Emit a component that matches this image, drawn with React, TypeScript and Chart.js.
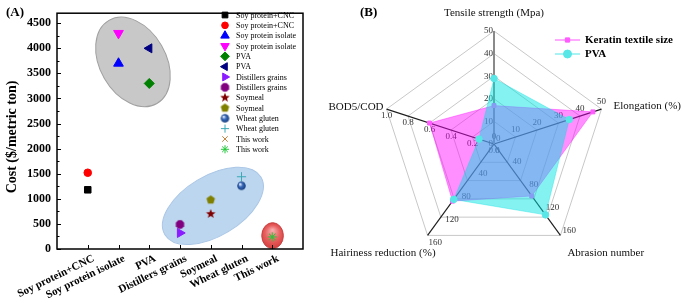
import React, { useEffect, useRef } from 'react';
import { Chart, registerables } from 'chart.js';
import { drawPoint } from 'chart.js/helpers';

Chart.register(...registerables);

const FONT = "'Liberation Serif', 'Times New Roman', Times, serif";

// ---------- Panel A data ----------
const categories = [
  'Soy protein+CNC',
  'Soy protein isolate',
  'PVA',
  'Distillers grains',
  'Soymeal',
  'Wheat gluten',
  'This work',
];
const seriesLabels = [
  'Soy protein+CNC', 'Soy protein+CNC',
  'Soy protein isolate', 'Soy protein isolate',
  'PVA', 'PVA',
  'Distillers grains', 'Distillers grains',
  'Soymeal', 'Soymeal',
  'Wheat gluten', 'Wheat gluten',
  'This work', 'This work',
];
const seriesCategory = [1, 1, 2, 2, 3, 3, 4, 4, 5, 5, 6, 6, 7, 7];
const seriesCost = [1180, 1520, 3700, 4300, 3300, 4000, 320, 490, 700, 980, 1260, 1440, 240, 240];
const costTicks = [0, 500, 1000, 1500, 2000, 2500, 3000, 3500, 4000, 4500];
const costMinorTicks = [250, 750, 1250, 1750, 2250, 2750, 3250, 3750, 4250];

// ---------- Panel B data ----------
const radarAxes = ['Tensile strength (Mpa)', 'Elongation (%)', 'Abrasion number', 'Hairiness reduction (%)', 'BOD5/COD'];
const radarAxisMax = [50, 50, 160, 160, 1.0];
const radarAxisTicks = [
  [0, 10, 20, 30, 40, 50],
  [0, 10, 20, 30, 40, 50],
  [0, 40, 80, 120, 160],
  [0, 40, 80, 120, 160],
  [0, 0.2, 0.4, 0.6, 0.8, 1.0],
];
const keratinValues = [17, 46, 91, 100, 0.6];
const pvaValues = [29, 35, 124, 97, 0.14];

// ---------- styles (kept apart from data) ----------
type MarkerDef = { kind: string; color: string; radius: number; rotation: number };
const markerDefs: MarkerDef[] = [
  { kind: 'rect', color: '#000000', radius: 4.6, rotation: 0 },
  { kind: 'circle', color: '#ff0000', radius: 3.8, rotation: 0 },
  { kind: 'triangle', color: '#0000ff', radius: 5.6, rotation: 0 },
  { kind: 'triangle', color: '#ff00ff', radius: 5.6, rotation: 180 },
  { kind: 'rectRot', color: '#008000', radius: 5, rotation: 0 },
  { kind: 'triangle', color: '#000080', radius: 5.2, rotation: -90 },
  { kind: 'triangle', color: '#8a1cff', radius: 5.2, rotation: 90 },
  { kind: 'octagon', color: '#800080', radius: 9, rotation: 0 },
  { kind: 'star5', color: '#800000', radius: 10, rotation: 0 },
  { kind: 'pentagon', color: '#808000', radius: 9, rotation: 0 },
  { kind: 'sphere', color: '#3767b8', radius: 8.5, rotation: 0 },
  { kind: 'cross', color: '#3aa8b6', radius: 4.6, rotation: 0 },
  { kind: 'crossRot', color: '#c0803c', radius: 4.4, rotation: 0 },
  { kind: 'star', color: '#22c83a', radius: 4.6, rotation: 0 },
];

const ellipses = [
  { cx: 2.47, cy: 3729, a: 48, b: 33, rot: 60, fill: '#c8c8c8', stroke: '#a0a0a0', gradient: false },
  { cx: 5.07, cy: 860, a: 56, b: 30, rot: -31, fill: '#bdd6ef', stroke: '#a9c6e6', gradient: false },
  { cx: 7.01, cy: 266, a: 10.8, b: 13, rot: 0, fill: '#e25b5b', stroke: '#c84040', gradient: true },
];

function makeShapeCanvas(kind: string, color: string, d: number): HTMLCanvasElement {
  const c = document.createElement('canvas');
  const s = Math.ceil(d + 2);
  c.width = s;
  c.height = s;
  const g = c.getContext('2d')!;
  const cx = s / 2, cy = s / 2, R = d / 2;
  g.beginPath();
  if (kind === 'sphere') {
    const grad = g.createRadialGradient(cx - R * 0.35, cy - R * 0.4, R * 0.1, cx, cy, R);
    grad.addColorStop(0, '#e4eeff');
    grad.addColorStop(0.45, color);
    grad.addColorStop(1, '#173f80');
    g.arc(cx, cy, R, 0, Math.PI * 2);
    g.fillStyle = grad;
    g.fill();
    return c;
  }
  const pts = kind === 'star5' ? 10 : kind === 'octagon' ? 8 : 5;
  for (let k = 0; k < pts; k++) {
    let ang: number, rr: number;
    if (kind === 'star5') {
      ang = -Math.PI / 2 + (k * Math.PI) / 5;
      rr = k % 2 === 0 ? R : R * 0.42;
    } else if (kind === 'octagon') {
      ang = Math.PI / 8 + (k * Math.PI) / 4;
      rr = R;
    } else {
      ang = -Math.PI / 2 + (k * 2 * Math.PI) / 5;
      rr = R;
    }
    const px = cx + rr * Math.cos(ang), py = cy + rr * Math.sin(ang);
    if (k === 0) g.moveTo(px, py);
    else g.lineTo(px, py);
  }
  g.closePath();
  g.fillStyle = color;
  g.fill();
  return c;
}

const customKinds = ['octagon', 'star5', 'pentagon', 'sphere'];

export default function App() {
  const refA = useRef<HTMLCanvasElement>(null);
  const refB = useRef<HTMLCanvasElement>(null);

  useEffect(() => {
    const styles: any[] = markerDefs.map((m) =>
      customKinds.includes(m.kind) ? makeShapeCanvas(m.kind, m.color, m.radius) : m.kind
    );

    const panelAPlugin = {
      id: 'panelA',
      beforeDatasetsDraw(chart: any) {
        const { ctx, scales } = chart;
        const x = scales.x, y = scales.y;
        for (const e of ellipses) {
          const cx = x.getPixelForValue(e.cx);
          const cy = y.getPixelForValue(e.cy);
          ctx.save();
          ctx.translate(cx, cy);
          ctx.rotate((e.rot * Math.PI) / 180);
          ctx.beginPath();
          ctx.ellipse(0, 0, e.a, e.b, 0, 0, Math.PI * 2);
          if (e.gradient) {
            const gr = ctx.createRadialGradient(0, -e.b * 0.45, 0, 0, 0, e.b * 1.05);
            gr.addColorStop(0, '#f7b2b2');
            gr.addColorStop(0.55, '#e86060');
            gr.addColorStop(1, '#d33a3a');
            ctx.fillStyle = gr;
          } else {
            ctx.fillStyle = e.fill;
          }
          ctx.fill();
          ctx.strokeStyle = e.stroke;
          ctx.lineWidth = 1;
          ctx.stroke();
          ctx.restore();
        }
      },
      afterDraw(chart: any) {
        const { ctx, chartArea, scales } = chart;
        const x = scales.x, y = scales.y;
        ctx.save();
        // frame
        ctx.strokeStyle = '#000';
        ctx.lineWidth = 1.5;
        ctx.strokeRect(chartArea.left, chartArea.top, chartArea.right - chartArea.left, chartArea.bottom - chartArea.top);
        // y ticks inward
        ctx.lineWidth = 1;
        ctx.beginPath();
        for (const v of costTicks) {
          const py = Math.round(y.getPixelForValue(v)) + 0.5;
          ctx.moveTo(chartArea.left, py);
          ctx.lineTo(chartArea.left + 4, py);
        }
        for (const v of costMinorTicks) {
          const py = Math.round(y.getPixelForValue(v)) + 0.5;
          ctx.moveTo(chartArea.left, py);
          ctx.lineTo(chartArea.left + 2.5, py);
        }
        // x ticks inward
        categories.forEach((_, i) => {
          const px = Math.round(x.getPixelForValue(i + 1)) + 0.5;
          ctx.moveTo(px, chartArea.bottom);
          ctx.lineTo(px, chartArea.bottom - 4);
        });
        ctx.stroke();
        // x labels (rotated)
        ctx.fillStyle = '#000';
        ctx.font = `bold 11px ${FONT}`;
        ctx.textAlign = 'right';
        ctx.textBaseline = 'middle';
        categories.forEach((c, i) => {
          const px = x.getPixelForValue(i + 1);
          ctx.save();
          ctx.translate(px + 6, chartArea.bottom + 9);
          ctx.rotate((-26 * Math.PI) / 180);
          ctx.fillText(c, 0, 0);
          ctx.restore();
        });
        // y title
        ctx.save();
        ctx.translate(12, 137);
        ctx.rotate(-Math.PI / 2);
        ctx.textAlign = 'center';
        ctx.font = `bold 14px ${FONT}`;
        ctx.fillText('Cost ($/metric ton)', 0, 0);
        ctx.restore();
        // panel letter
        ctx.textAlign = 'left';
        ctx.font = `bold 13px ${FONT}`;
        ctx.fillText('(A)', 6, 13);
        // legend
        ctx.font = `8px ${FONT}`;
        seriesLabels.forEach((lab, i) => {
          const ly = 15 + i * 10.33;
          const m = markerDefs[i];
          ctx.fillStyle = m.color;
          ctx.strokeStyle = m.color;
          ctx.lineWidth = 1;
          const r = customKinds.includes(m.kind) ? m.radius : m.radius * 0.88;
          drawPoint(ctx, { pointStyle: styles[i], rotation: m.rotation, radius: r, borderWidth: 1 } as any, 225, ly);
          ctx.fillStyle = '#000';
          ctx.textAlign = 'left';
          ctx.textBaseline = 'middle';
          ctx.fillText(lab, 236, ly + 0.5);
        });
        ctx.restore();
      },
    };

    const chartA = new Chart(refA.current!, {
      type: 'scatter',
      data: {
        datasets: seriesLabels.map((label, i) => ({
          label,
          data: [{ x: seriesCategory[i], y: seriesCost[i] }],
          pointStyle: styles[i],
          pointRadius: markerDefs[i].radius,
          rotation: markerDefs[i].rotation,
          backgroundColor: markerDefs[i].color,
          borderColor: markerDefs[i].color,
          pointBorderWidth: 1,
          order: markerDefs[i].kind === 'crossRot' ? 1 : 0,
        })),
      },
      options: {
        responsive: false,
        animation: false,
        devicePixelRatio: 1,
        layout: { padding: { left: 0, right: 17, top: 7, bottom: 0 } },
        plugins: { legend: { display: false }, tooltip: { enabled: false } },
        scales: {
          x: {
            type: 'linear',
            min: 0,
            max: 8,
            grid: { display: false, drawTicks: false },
            border: { display: false },
            ticks: { display: false },
            afterFit: (s: any) => {
              s.height = 54;
            },
          },
          y: {
            type: 'linear',
            min: 0,
            max: 4700,
            grid: { display: false, drawTicks: false },
            border: { display: false },
            afterBuildTicks: (s: any) => {
              s.ticks = costTicks.map((v) => ({ value: v }));
            },
            ticks: {
              autoSkip: false,
              padding: 6,
              color: '#000',
              font: { family: FONT, size: 12, weight: 'bold' },
              callback: (v: any) => String(v),
            },
            afterFit: (s: any) => {
              s.width = 57;
            },
          },
        },
      } as any,
      plugins: [panelAPlugin],
    });

    // ---------- Panel B ----------
    const radarPlugin = {
      id: 'radarExtras',
      beforeDatasetsDraw(chart: any) {
        const { ctx } = chart;
        const r = chart.scales.r;
        ctx.save();
        ctx.font = `9px ${FONT}`;
        ctx.fillStyle = '#333';
        radarAxisTicks.forEach((ticks, i) => {
          ticks.forEach((t) => {
            const f = t / radarAxisMax[i];
            const p = r.getPointPosition(i, r.drawingArea * f);
            const txt = i === 4 ? t.toFixed(1) : String(t);
            ctx.textBaseline = 'middle';
            if (i === 0) {
              ctx.textAlign = 'right';
              ctx.fillText(txt, p.x - 1, p.y);
            } else if (i === 1) {
              ctx.textAlign = 'center';
              ctx.fillText(txt, p.x, p.y - 7);
            } else if (i === 2) {
              ctx.textAlign = 'left';
              ctx.fillText(txt, p.x + 2, p.y - 5);
            } else if (i === 3) {
              ctx.textAlign = 'left';
              ctx.fillText(txt, p.x + 1, p.y + 7);
            } else {
              ctx.textAlign = 'center';
              ctx.fillText(txt, p.x, p.y + 7);
            }
          });
        });
        ctx.restore();
      },
      afterDraw(chart: any) {
        const { ctx } = chart;
        const r = chart.scales.r;
        ctx.save();
        ctx.fillStyle = '#111';
        ctx.font = `11px ${FONT}`;
        ctx.textBaseline = 'middle';
        radarAxes.forEach((name, i) => {
          const v = r.getPointPosition(i, r.drawingArea);
          if (i === 0) {
            ctx.textAlign = 'center';
            ctx.fillText(name, v.x, v.y - 18);
          } else if (i === 1) {
            ctx.textAlign = 'left';
            ctx.fillText(name, v.x + 12, v.y - 3);
          } else if (i === 2) {
            ctx.textAlign = 'left';
            ctx.fillText(name, v.x + 7, v.y + 18);
          } else if (i === 3) {
            ctx.textAlign = 'right';
            ctx.fillText(name, v.x + 8, v.y + 18);
          } else {
            ctx.textAlign = 'right';
            ctx.fillText(name, v.x - 3, v.y - 2);
          }
        });
        // panel letter
        ctx.fillStyle = '#000';
        ctx.textAlign = 'left';
        ctx.font = `bold 13px ${FONT}`;
        ctx.fillText('(B)', 40, 13);
        // legend
        const ds = chart.data.datasets;
        const rows = [0, 1];
        rows.forEach((k) => {
          const d = ds[k];
          const ly = 40 + k * 14;
          ctx.strokeStyle = d.legendLine;
          ctx.lineWidth = 1.5;
          ctx.beginPath();
          ctx.moveTo(235, ly);
          ctx.lineTo(260, ly);
          ctx.stroke();
          ctx.fillStyle = d.pointBackgroundColor;
          ctx.strokeStyle = d.pointBorderColor;
          ctx.lineWidth = 1;
          drawPoint(ctx, { pointStyle: d.pointStyle, rotation: 0, radius: d.pointStyle === 'rect' ? 3 : 4, borderWidth: 1 } as any, 247.5, ly);
          ctx.fillStyle = '#000';
          ctx.font = `bold 11px ${FONT}`;
          ctx.textAlign = 'left';
          ctx.fillText(d.label, 265, ly + 0.5);
        });
        ctx.restore();
      },
    };

    const chartB = new Chart(refB.current!, {
      type: 'radar',
      data: {
        labels: radarAxes,
        datasets: [
          {
            label: 'Keratin textile size',
            data: keratinValues.map((v, i) => v / radarAxisMax[i]),
            fill: true,
            backgroundColor: 'rgba(255,0,255,0.44)',
            borderColor: 'rgba(255,0,255,0.35)',
            borderWidth: 1,
            pointStyle: 'rect',
            pointRadius: 2.8,
            pointBackgroundColor: '#ff5cff',
            pointBorderColor: '#ff5cff',
            pointBorderWidth: 1,
            legendLine: '#ff8cff',
            order: 2,
          },
          {
            label: 'PVA',
            data: pvaValues.map((v, i) => v / radarAxisMax[i]),
            fill: true,
            backgroundColor: 'rgba(0,228,228,0.48)',
            borderColor: 'rgba(0,220,220,0.35)',
            borderWidth: 1,
            pointStyle: 'circle',
            pointRadius: 3.3,
            pointBackgroundColor: '#58e6e6',
            pointBorderColor: '#58e6e6',
            pointBorderWidth: 1,
            legendLine: '#8aeeee',
            order: 1,
          },
        ],
      } as any,
      options: {
        responsive: false,
        animation: false,
        devicePixelRatio: 1,
        layout: { padding: { left: 61, right: 78, top: 31, bottom: 46 } },
        elements: { line: { tension: 0 } },
        plugins: { legend: { display: false }, tooltip: { enabled: false } },
        scales: {
          r: {
            min: 0,
            max: 1,
            ticks: { display: false, stepSize: 0.2 },
            pointLabels: { display: false },
            grid: { color: '#c8c8c8', lineWidth: 1 },
            angleLines: {
              display: true,
              color: (c: any) => (c.index === 0 ? '#8a8a8a' : '#1e1e1e'),
              lineWidth: (c: any) => (c.index === 0 ? 2 : 1.2),
            },
          },
        },
      } as any,
      plugins: [radarPlugin],
    });

    return () => {
      chartA.destroy();
      chartB.destroy();
    };
  }, []);

  return (
    <div style={{ position: 'fixed', left: 0, top: 0, width: 685, height: 303, background: '#fff' }}>
      <canvas ref={refA} width={320} height={303} style={{ position: 'absolute', left: 0, top: 0, width: 320, height: 303 }} />
      <canvas ref={refB} width={365} height={303} style={{ position: 'absolute', left: 320, top: 0, width: 365, height: 303 }} />
    </div>
  );
}
